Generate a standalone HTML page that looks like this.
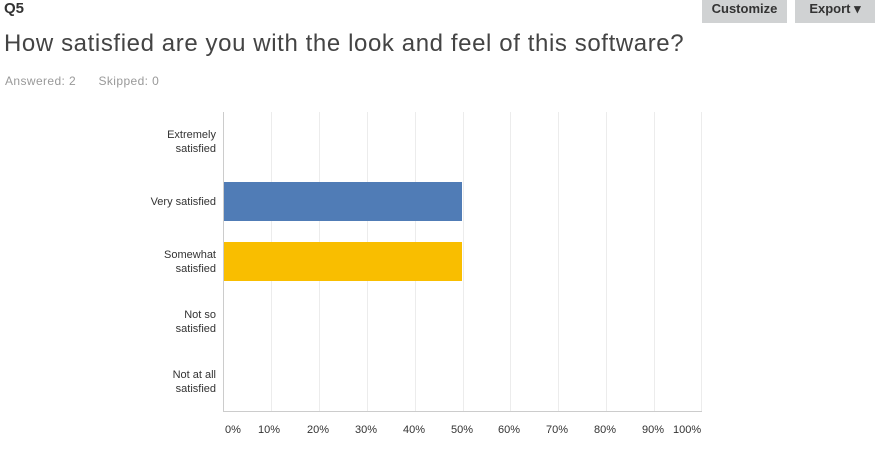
<!DOCTYPE html>
<html><head><style>
body{margin:0;width:878px;height:471px;background:#fff;font-family:"Liberation Sans Narrow","Liberation Sans",sans-serif;position:relative;overflow:hidden;color:#333}
.a{position:absolute;white-space:nowrap}
.btn{position:absolute;top:0;height:23px;background:#d0d2d3;color:#333;font-size:13px;line-height:17px;text-align:center;font-weight:bold}
.lab{position:absolute;right:662px;text-align:right;font-size:11px;line-height:14px;color:#333}
.g{position:absolute;top:112px;height:300px;width:1px;background:#ececec}
.t{position:absolute;top:424px;font-size:11px;color:#333}
</style></head><body>
<div class="a" style="left:4px;top:0;font-size:15px;font-weight:bold">Q5</div>
<div class="btn" style="left:702px;width:85px">Customize</div>
<div class="btn" style="left:795px;width:80px">Export ▾</div>
<div class="a" style="left:4px;top:30px;font-size:24px;color:#444;font-family:'Liberation Sans',sans-serif;letter-spacing:0.6px">How satisfied are you with the look and feel of this software?</div>
<div class="a" style="left:5px;top:74px;font-size:12px;color:#999;letter-spacing:0.4px">Answered: 2&nbsp;&nbsp;&nbsp;&nbsp;&nbsp;&nbsp;Skipped: 0</div>

<div class="g" style="left:271px"></div><div class="g" style="left:319px"></div><div class="g" style="left:367px"></div><div class="g" style="left:415px"></div><div class="g" style="left:463px"></div><div class="g" style="left:510px"></div><div class="g" style="left:558px"></div><div class="g" style="left:606px"></div><div class="g" style="left:654px"></div><div class="g" style="left:701px"></div>
<div class="a" style="left:223px;top:112px;width:1px;height:300px;background:#ccc"></div>
<div class="a" style="left:223px;top:411px;width:479px;height:1px;background:#ccc"></div>
<div class="a" style="left:224px;top:182px;width:238px;height:39px;background:#507cb6"></div>
<div class="a" style="left:224px;top:242px;width:238px;height:39px;background:#f9be00"></div>

<div class="lab" style="top:128px">Extremely<br>satisfied</div>
<div class="lab" style="top:195px">Very satisfied</div>
<div class="lab" style="top:248px">Somewhat<br>satisfied</div>
<div class="lab" style="top:308px">Not so<br>satisfied</div>
<div class="lab" style="top:368px">Not at all<br>satisfied</div>

<div class="t" style="left:225px">0%</div>
<div class="t" style="left:258px">10%</div>
<div class="t" style="left:307px">20%</div>
<div class="t" style="left:355px">30%</div>
<div class="t" style="left:403px">40%</div>
<div class="t" style="left:451px">50%</div>
<div class="t" style="left:498px">60%</div>
<div class="t" style="left:546px">70%</div>
<div class="t" style="left:594px">80%</div>
<div class="t" style="left:642px">90%</div>
<div class="t" style="left:673px">100%</div>
</body></html>
